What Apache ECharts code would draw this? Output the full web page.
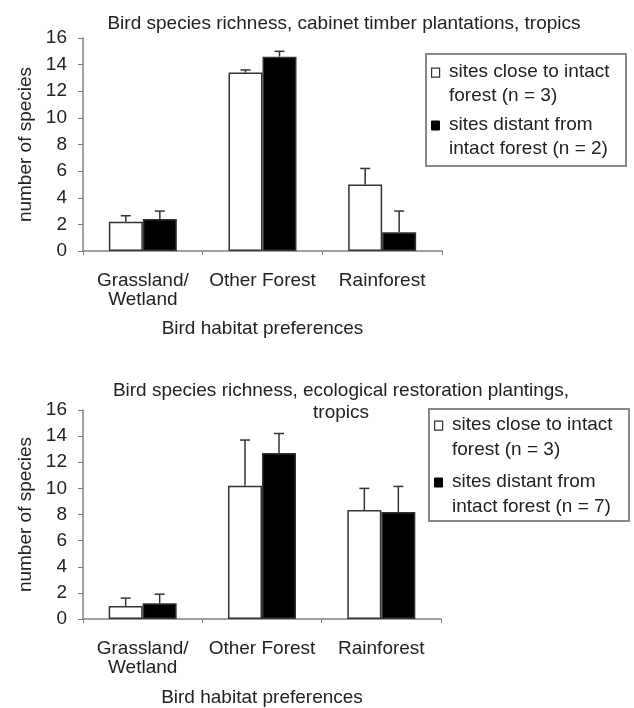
<!DOCTYPE html>
<html>
<head>
<meta charset="utf-8">
<script src="https://cdn.jsdelivr.net/npm/echarts@6/dist/echarts.min.js"></script>
<style>html,body{margin:0;padding:0;background:#fff;}#c{width:634px;height:708px;}</style>
</head>
<body>
<div id="c"></div>
<script>
// Categories and tick labels
const categories = ['Grassland/\nWetland', 'Other Forest', 'Rainforest'];
const yTicks = [0, 2, 4, 6, 8, 10, 12, 14, 16];

// Chart 1: cabinet timber plantations
const timberClose = [2.2, 13.4, 5.0];
const timberCloseErr = [0.45, 0.2, 1.2];
const timberDistant = [2.4, 14.6, 1.4];
const timberDistantErr = [0.6, 0.4, 1.6];

// Chart 2: ecological restoration plantings
const restClose = [1.0, 10.2, 8.35];
const restCloseErr = [0.6, 3.5, 1.65];
const restDistant = [1.2, 12.7, 8.2];
const restDistantErr = [0.7, 1.5, 1.95];

const titles = ['Bird species richness, cabinet timber plantations, tropics',
  'Bird species richness, ecological restoration plantings,\ntropics'];
const legendClose = ['sites close to intact\nforest (n = 3)', 'sites close to intact\nforest (n = 3)'];
const legendDistant = ['sites distant from\nintact forest (n = 2)', 'sites distant from\nintact forest (n = 7)'];
const xName = 'Bird habitat preferences';
const yName = 'number of species';

const FONT = '"Liberation Sans", Arial, sans-serif';
const FS = 19;
const TXT = '#222';
const AXIS = '#808080';
const BARW = 34;

const chart = echarts.init(document.getElementById('c'), null, {renderer: 'canvas'});

function errSeries(xi, yi, vals, errs, side) {
  return {
    type: 'custom', xAxisIndex: xi, yAxisIndex: yi, z: 5,
    data: vals.map((v, i) => [i, v, v + errs[i]]),
    encode: {x: 0, y: [1, 2]},
    renderItem: function (params, api) {
      const c = api.value(0);
      const base = api.coord([c, api.value(1)]);
      const top = api.coord([c, api.value(2)]);
      const x = base[0] + side * BARW / 2;
      const cap = 5;
      return {
        type: 'group',
        children: [
          {type: 'line', shape: {x1: x, y1: base[1], x2: x, y2: top[1]}, style: {stroke: '#333', lineWidth: 1.5}},
          {type: 'line', shape: {x1: x - cap, y1: top[1], x2: x + cap, y2: top[1]}, style: {stroke: '#333', lineWidth: 1.5}}
        ]
      };
    }
  };
}

function xAx(gi, nameGap) {
  return {
    type: 'category', gridIndex: gi, data: categories,
    name: xName, nameLocation: 'middle', nameGap: nameGap,
    nameTextStyle: {fontFamily: FONT, fontSize: FS, color: TXT},
    axisLine: {lineStyle: {color: AXIS, width: 1.5}},
    axisTick: {show: true, length: 4, lineStyle: {color: AXIS}},
    axisLabel: {fontFamily: FONT, fontSize: FS, color: TXT, margin: 20, lineHeight: 19, interval: 0}
  };
}
function yAx(gi) {
  return {
    type: 'value', gridIndex: gi, min: yTicks[0], max: yTicks[yTicks.length - 1], interval: yTicks[1] - yTicks[0],
    name: yName, nameLocation: 'middle', nameGap: 48, nameRotate: 90,
    nameTextStyle: {fontFamily: FONT, fontSize: FS, color: TXT},
    splitLine: {show: false},
    axisLine: {show: true, lineStyle: {color: AXIS, width: 1.5}},
    axisTick: {show: true, length: 5, lineStyle: {color: AXIS}},
    axisLabel: {fontFamily: FONT, fontSize: FS, color: TXT, margin: 16}
  };
}
function barSeries(xi, yi, data, fill) {
  return {
    type: 'bar', xAxisIndex: xi, yAxisIndex: yi, data: data,
    barWidth: BARW, barGap: '0%',
    itemStyle: {color: fill, borderColor: '#333', borderWidth: 1.5},
    silent: true
  };
}
function legendGraphic(left, top, w, h, lh, t1, t2, closeTxt, distTxt) {
  const ts = {fontFamily: FONT, fontSize: FS, fill: TXT, lineHeight: lh};
  return [
    {type: 'rect', left: left, top: top, shape: {width: w, height: h}, style: {fill: '#fff', stroke: '#888', lineWidth: 2}},
    {type: 'rect', left: left + 6, top: top + t1 + lh / 2 - 4.5, shape: {width: 8, height: 9}, style: {fill: '#fff', stroke: '#333', lineWidth: 1.2}},
    {type: 'text', left: left + 24, top: top + t1, style: Object.assign({text: closeTxt}, ts)},
    {type: 'rect', left: left + 6, top: top + t2 + lh / 2 - 4.5, shape: {width: 8, height: 9}, style: {fill: '#000', stroke: '#000', lineWidth: 1}},
    {type: 'text', left: left + 24, top: top + t2, style: Object.assign({text: distTxt}, ts)}
  ];
}

const option = {
  backgroundColor: '#fff',
  animation: false,
  title: [
    {text: titles[0], left: 339, top: 9, textAlign: 'center',
      textStyle: {fontFamily: FONT, fontSize: FS, fontWeight: 'normal', color: TXT}},
    {text: titles[1], left: 336, top: 375, textAlign: 'center',
      textStyle: {fontFamily: FONT, fontSize: FS, fontWeight: 'normal', color: TXT, lineHeight: 22, align: 'center'}}
  ],
  grid: [
    {left: 83, width: 359, top: 38, height: 213, containLabel: false, outerBoundsMode: 'none'},
    {left: 83, width: 358, top: 410, height: 209, containLabel: false, outerBoundsMode: 'none'}
  ],
  xAxis: [xAx(0, 68), xAx(1, 69)],
  yAxis: [yAx(0), yAx(1)],
  series: [
    barSeries(0, 0, timberClose, '#fff'),
    barSeries(0, 0, timberDistant, '#000'),
    errSeries(0, 0, timberClose, timberCloseErr, -1),
    errSeries(0, 0, timberDistant, timberDistantErr, 1),
    barSeries(1, 1, restClose, '#fff'),
    barSeries(1, 1, restDistant, '#000'),
    errSeries(1, 1, restClose, restCloseErr, -1),
    errSeries(1, 1, restDistant, restDistantErr, 1)
  ],
  graphic: legendGraphic(425, 53, 200, 112, 24, 7, 60, legendClose[0], legendDistant[0])
    .concat(legendGraphic(428, 408, 200, 112, 25, 4.5, 61.5, legendClose[1], legendDistant[1]))
};
chart.setOption(option);
</script>
</body>
</html>
